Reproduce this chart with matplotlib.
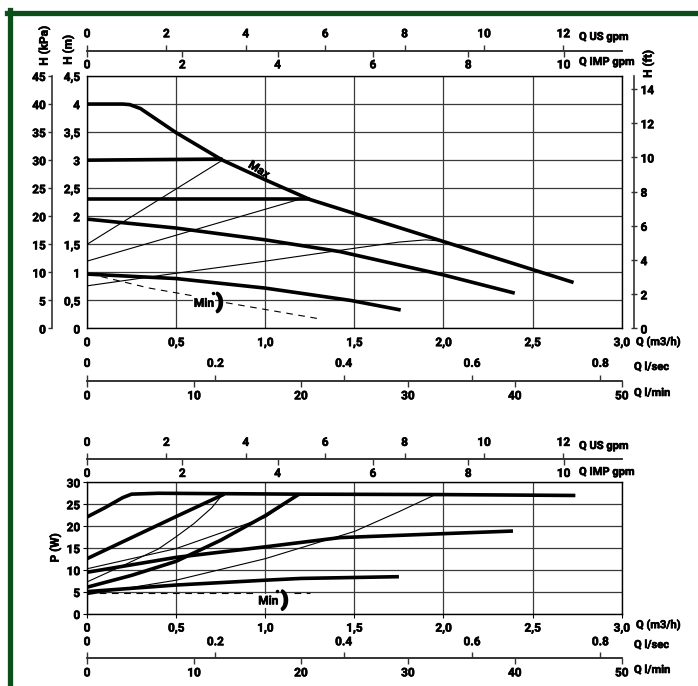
import matplotlib
matplotlib.use('Agg')
import matplotlib.pyplot as plt
import matplotlib.patheffects as pe
from matplotlib.lines import Line2D
from matplotlib.text import Text

W, H = 698, 686
plt.rcParams['font.family'] = ['Roboto', 'DejaVu Sans']
plt.rcParams['font.size'] = 8.5
plt.rcParams['font.weight'] = 'bold'

# scale factors per m3/h (as drawn on the sheet)
US_GPM = 4.49
IMP_GPM = 3.74
LPS = 1 / 3.6
LPM = 1000 / 60
FT = 3.281
KPA = 10

# head curves, Q (m3/h) vs H (m)
q_max = [0, 0.2, 0.24, 0.3, 0.5, 0.76, 1.0, 1.25, 1.5, 2.0, 2.5, 2.73]
h_max = [4.0, 4.0, 3.99, 3.92, 3.49, 3.0, 2.65, 2.3, 2.05, 1.55, 1.05, 0.82]
q_c3 = [0, 0.76]
h_c3 = [3.0, 3.02]
q_c23 = [0, 1.25]
h_c23 = [2.31, 2.31]
q_c2 = [0, 0.5, 1.0, 1.42, 2.0, 2.4]
h_c2 = [1.95, 1.79, 1.58, 1.37, 0.955, 0.63]
q_c1 = [0, 0.5, 1.0, 1.48, 1.76]
h_c1 = [0.97, 0.89, 0.72, 0.50, 0.33]
q_pa = [0, 0.76]
h_pa = [1.5, 3.0]
q_pb = [0, 1.2]
h_pb = [1.2, 2.31]
q_pc = [0, 0.5, 1.0, 1.5, 1.75, 1.9, 1.98]
h_pc = [0.76, 0.985, 1.2, 1.43, 1.54, 1.58, 1.56]
q_min1 = [0.08, 0.35, 0.59]
h_min1 = [0.925, 0.72, 0.585]
q_min2 = [0.78, 1.29]
h_min2 = [0.46, 0.18]

# power curves, Q (m3/h) vs P (W)
q_pmax = [0, 0.1, 0.2, 0.25, 0.4, 0.8, 1.2, 2.0, 2.74]
p_pmax = [22.1, 24.2, 26.5, 27.3, 27.5, 27.4, 27.3, 27.2, 27.0]
q_p3 = [0, 0.5, 0.77]
p_p3 = [12.6, 22.2, 27.3]
q_p23 = [0, 0.25, 0.5, 0.75, 1.0, 1.19]
p_p23 = [6.1, 8.8, 12.0, 16.8, 22.4, 27.3]
q_p2 = [0, 0.5, 1.0, 1.42, 2.0, 2.39]
p_p2 = [9.5, 12.9, 15.3, 17.4, 18.3, 18.9]
q_p1 = [0, 0.5, 1.0, 1.2, 1.75]
p_p1 = [5.1, 6.6, 7.7, 8.1, 8.5]
q_t1 = [0, 0.2, 0.4, 0.5, 0.6, 0.7, 0.76]
p_t1 = [7.3, 11.0, 14.8, 17.6, 20.6, 24.2, 27.2]
q_t2 = [0, 0.5, 1.0, 1.19]
p_t2 = [10.3, 14.9, 22.0, 27.2]
q_t3 = [0, 0.5, 1.0, 1.5, 1.75, 1.95]
p_t3 = [4.4, 7.7, 12.6, 18.8, 23.3, 27.1]
q_pmin1 = [0, 0.95]
p_pmin1 = [4.85, 4.85]
q_pmin2 = [1.16, 1.25]
p_pmin2 = [4.85, 4.85]

q_ticks = [0, 0.5, 1.0, 1.5, 2.0, 2.5, 3.0]
q_labels = ['0', '0,5', '1,0', '1,5', '2,0', '2,5', '3,0']
h_ticks = [0, 0.5, 1, 1.5, 2, 2.5, 3, 3.5, 4, 4.5]
h_labels = ['0', '0,5', '1', '1,5', '2', '2,5', '3', '3,5', '4', '4,5']
p_ticks = [0, 5, 10, 15, 20, 25, 30]
kpa_ticks = [0, 5, 10, 15, 20, 25, 30, 35, 40, 45]
ft_ticks = [0, 2, 4, 6, 8, 10, 12, 14]
us_ticks = [0, 2, 4, 6, 8, 10, 12]
imp_ticks = [0, 2, 4, 6, 8, 10]
lps_ticks = [0, 0.2, 0.4, 0.6, 0.8]
lpm_ticks = [0, 10, 20, 30, 40, 50]

X0, X1 = 87, 621.7
AX = '#333333'
GREEN = '#0b4f1a'
UNIT_FS = 8

fig = plt.figure(figsize=(W / 100, H / 100), dpi=100)


def axes_px(x0, y0, x1, y1):
    return fig.add_axes([x0 / W, 1 - y1 / H, (x1 - x0) / W, (y1 - y0) / H])


def text_px(x, y, s, **kw):
    kw.setdefault('va', 'center')
    fig.text(x / W, 1 - y / H, s, **kw)


def scale(y, xmax, ticks, side, pad):
    ax = fig.add_axes([X0 / W, 1 - y / H, (X1 - X0) / W, 0.00001])
    ax.patch.set_visible(False)
    for s in ax.spines.values():
        s.set_visible(False)
    ax.spines[side].set_visible(True)
    ax.spines[side].set_color(AX)
    ax.spines[side].set_linewidth(1.2)
    ax.set_xlim(0, xmax)
    ax.set_yticks([])
    if side == 'top':
        ax.xaxis.tick_top()
    ax.set_xticks(ticks)
    ax.set_xticklabels([('%g' % t) for t in ticks])
    ax.tick_params(axis='x', direction='out', length=4, width=1, color=AX, pad=pad)
    return ax


def main_axes(y0, y1, ymax, yt, ylab):
    ax = axes_px(X0, y0, X1, y1)
    ax.set_xlim(0, 3)
    ax.set_ylim(0, ymax)
    ax.set_xticks(q_ticks)
    ax.set_xticklabels(q_labels)
    ax.set_yticks(yt)
    ax.set_yticklabels(ylab)
    ax.grid(True, color='#3a3a3a', lw=0.9)
    for s in ax.spines.values():
        s.set_linewidth(1.0)
    return ax


# ---- head chart ----
ax1 = main_axes(76, 328.5, 4.5, h_ticks, h_labels)
ax1.tick_params(axis='y', length=0, pad=5)
ax1.tick_params(axis='x', length=0, pad=5.5)

thick = dict(color='black', lw=2.6, solid_capstyle='butt', zorder=3)
thin = dict(color='black', lw=0.8, zorder=3)
ax1.plot(q_max, h_max, **thick)
ax1.plot(q_c3, h_c3, **thick)
ax1.plot(q_c23, h_c23, **thick)
ax1.plot(q_c2, h_c2, **thick)
ax1.plot(q_c1, h_c1, **thick)
ax1.plot(q_pa, h_pa, **thin)
ax1.plot(q_pb, h_pb, **thin)
ax1.plot(q_pc, h_pc, **thin)
ax1.plot(q_min1, h_min1, color='black', lw=0.8, ls=(0, (6, 5)), zorder=3)
ax1.plot(q_min2, h_min2, color='black', lw=0.8, ls=(0, (6, 5)), zorder=3)
ax1.text(0.965, 2.83, 'Max', rotation=-32, ha='center', va='center', fontsize=8.5, zorder=4)
ax1.text(0.656, 0.45, 'Min', ha='center', va='center', fontsize=8.5, zorder=4,
         bbox=dict(fc='white', ec='none', pad=0.5))
ax1.text(0.745, 0.46, ')', ha='center', va='center', fontsize=14, zorder=4,
         path_effects=[pe.withStroke(linewidth=1.6, foreground='black')])
ax1.plot([0.707], [0.634], marker='o', ms=1.5, color='black', zorder=4)

# kPa axis
axk = axes_px(52, 76, 52.01, 328.5)
axk.patch.set_visible(False)
for s in ['top', 'bottom', 'right']:
    axk.spines[s].set_visible(False)
axk.spines['left'].set_color(AX)
axk.spines['left'].set_linewidth(1.2)
axk.set_xticks([])
axk.set_ylim(0, 4.5 * KPA)
axk.set_yticks(kpa_ticks)
axk.tick_params(axis='y', direction='out', length=3, width=1, color=AX, pad=1.5)

# ft axis
axf = axes_px(634.3, 76, 634.31, 328.5)
axf.patch.set_visible(False)
for s in ['top', 'bottom', 'left']:
    axf.spines[s].set_visible(False)
axf.spines['right'].set_color(AX)
axf.spines['right'].set_linewidth(1.2)
axf.set_xticks([])
axf.yaxis.tick_right()
axf.set_ylim(0, 4.5 * FT)
axf.set_yticks(ft_ticks)
axf.tick_params(axis='y', direction='inout', length=4, width=1, color=AX, pad=2.5)

scale(50.7, 3 * US_GPM, us_ticks, 'top', 3.5)
scale(50.7, 3 * IMP_GPM, imp_ticks, 'bottom', 1.5)
scale(381, 3 * LPS, lps_ticks, 'top', 4)
scale(381, 3 * LPM, lpm_ticks, 'bottom', 2)

text_px(44, 46, 'H (kPa)', rotation=90, ha='center')
text_px(68, 50, 'H (m)', rotation=90, ha='center')
text_px(648, 64, 'H (ft)', rotation=90, ha='center')
text_px(579, 37, 'Q US gpm', fontsize=UNIT_FS)
text_px(579, 62, 'Q IMP gpm', fontsize=UNIT_FS)
text_px(636, 342, 'Q (m3/h)', fontsize=UNIT_FS)
text_px(634, 367, 'Q l/sec', fontsize=UNIT_FS)
text_px(634, 393, 'Q l/min', fontsize=UNIT_FS)

# ---- power chart ----
ax2 = main_axes(482.3, 614, 30, p_ticks, [str(t) for t in p_ticks])
ax2.tick_params(axis='y', length=3, pad=2)
ax2.tick_params(axis='x', length=3, pad=2.5)

ax2.plot(q_pmax, p_pmax, **thick)
ax2.plot(q_p3, p_p3, **thick)
ax2.plot(q_p23, p_p23, **thick)
ax2.plot(q_p2, p_p2, **thick)
ax2.plot(q_p1, p_p1, **thick)
ax2.plot(q_t1, p_t1, **thin)
ax2.plot(q_t2, p_t2, **thin)
ax2.plot(q_t3, p_t3, **thin)
ax2.plot(q_pmin1, p_pmin1, color='black', lw=0.8, ls=(0, (6, 5)), zorder=3)
ax2.plot(q_pmin2, p_pmin2, color='black', lw=0.8, ls=(0, (6, 5)), zorder=3)
ax2.text(1.017, 3.0, 'Min', ha='center', va='center', fontsize=8.5, zorder=4,
         bbox=dict(fc='white', ec='none', pad=0.5))
ax2.text(1.11, 3.1, ')', ha='center', va='center', fontsize=14, zorder=4,
         path_effects=[pe.withStroke(linewidth=1.6, foreground='black')])
ax2.plot([1.065], [5.3], marker='o', ms=1.5, color='black', zorder=4)

scale(459.3, 3 * US_GPM, us_ticks, 'top', 3.5)
scale(459.3, 3 * IMP_GPM, imp_ticks, 'bottom', 1.5)
scale(658, 3 * LPS, lps_ticks, 'top', 3)
scale(658, 3 * LPM, lpm_ticks, 'bottom', 2)

text_px(55, 548, 'P (W)', rotation=90, ha='center')
text_px(579, 446, 'Q US gpm', fontsize=UNIT_FS)
text_px(579, 472, 'Q IMP gpm', fontsize=UNIT_FS)
text_px(636, 625, 'Q (m3/h)', fontsize=UNIT_FS)
text_px(634, 645, 'Q l/sec', fontsize=UNIT_FS)
text_px(634, 670, 'Q l/min', fontsize=UNIT_FS)

# green frame
fig.add_artist(Line2D([7 / W, 1], [1 - 12.5 / H, 1 - 12.5 / H], color=GREEN, lw=3.8))
fig.add_artist(Line2D([9.5 / W, 9.5 / W], [0, 1 - 10 / H], color=GREEN, lw=3.8))

# embolden the (regular-weight) lettering a little
for t in fig.findobj(Text):
    if not t.get_path_effects():
        t.set_path_effects([pe.withStroke(linewidth=0.45, foreground=t.get_color())])

fig.savefig('out.png', dpi=100)
